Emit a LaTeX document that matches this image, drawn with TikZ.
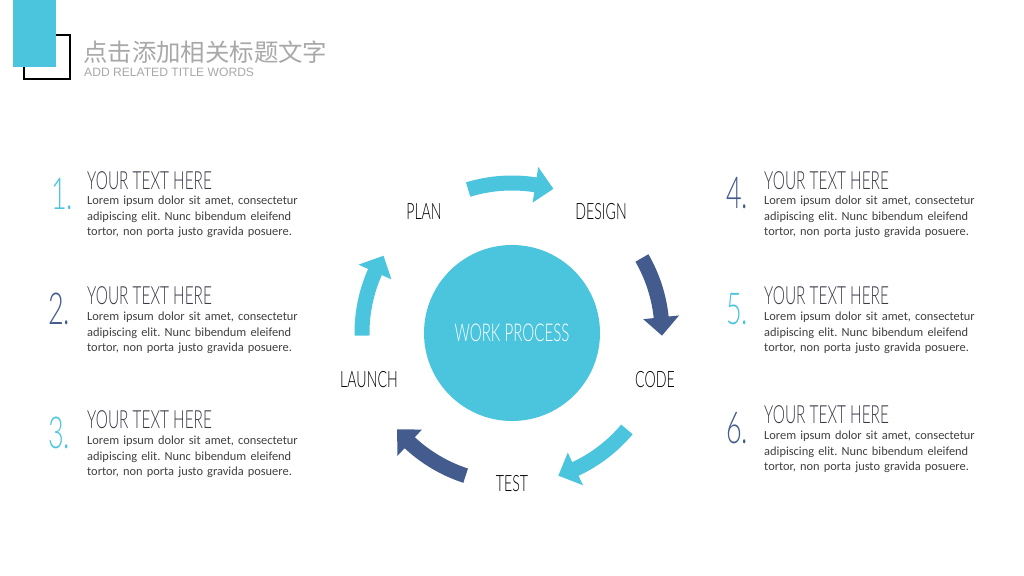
\documentclass[tikz,border=0pt]{standalone}
\usepackage{fontspec}
\setmainfont{Carlito}
\newfontfamily\cjk{Noto Sans CJK SC}
\newfontfamily\cond[FakeStretch=0.615]{Lato Light}
\newfontfamily\condl[FakeStretch=0.63]{Lato Light}
\newfontfamily\arialf{Liberation Sans}
\definecolor{cy}{HTML}{4BC5DE}
\definecolor{db}{HTML}{435B8D}
\definecolor{hd}{HTML}{3A3A48}
\definecolor{bd}{HTML}{404040}
\definecolor{tg}{HTML}{A8A8A8}
\tikzset{
  num/.style={anchor=base west,inner sep=0pt,font=\cond\fontsize{44}{44}\selectfont},
  head/.style={anchor=base west,inner sep=0pt,text=hd,font=\cond\fontsize{25}{25}\selectfont},
  body/.style={anchor=base west,inner sep=0pt,text=bd,text width=260pt,align=left,font=\frenchspacing\fontsize{12.4}{15.5}\selectfont},
  lab/.style={inner sep=0pt,text=black,font=\condl\fontsize{22.5}{22.5}\selectfont},
}
\begin{document}
\begin{tikzpicture}[x=1pt,y=1pt]
\useasboundingbox (0,0) rectangle (1024,575);
\fill[white] (0,0) rectangle (1024,575);
% header
\draw[black,line width=1.2pt] (24,496) rectangle (70,540);
\fill[cy] (13,508) rectangle (56,575);
\node[anchor=west,inner sep=0pt,text=tg,font=\cjk\fontsize{24.4}{24.4}\selectfont] (title) at (83,523) {点击添加相关标题文字};
\node[anchor=west,inner sep=0pt,text=tg,font=\arialf\fontsize{12.1}{12}\selectfont] (sub) at (84,503) {ADD RELATED TITLE WORDS};
% circle
\coordinate (C) at (512,242);
\fill[cy] (C) circle (88);
\node[inner sep=0pt,text=white,font=\cond\fontsize{24.5}{24.5}\selectfont] (wp) at (512,242) {WORK PROCESS};
% arrows
\foreach \s/\e/\c in {107/74/cy, 30/-1/db, -40/-72/cy, -108/-140/db, 181/149/cy}{
  \pgfmathsetmacro{\b}{\e+7}
  \fill[\c] ([shift={(C)}]\s:157.5) arc[start angle=\s,end angle=\b,radius=157.5]
     -- ([shift={(C)}]\b:168) -- ([shift={(C)}]\e:150) -- ([shift={(C)}]\b:132)
     -- ([shift={(C)}]\b:142.5) arc[start angle=\b,end angle=\s,radius=142.5] -- cycle;
}
% labels
\node[lab] (plan) at (424,363) {PLAN};
\node[lab] (design) at (601,363) {DESIGN};
\node[lab] (code) at (655,195) {CODE};
\node[lab] (test) at (512,91) {TEST};
\node[lab] (launch) at (369,195) {LAUNCH};
% left blocks
\node[num,text=cy] (n1) at (51,365) {1.};
\node[head] (h1) at (87,385) {YOUR TEXT HERE};
\node[body] (b1) at (87,370) {Lorem ipsum dolor sit amet, consectetur\\adipiscing elit. Nunc bibendum eleifend\\tortor, non porta justo gravida posuere.};
\node[num,text=db] (n2) at (48,250) {2.};
\node[head] (h2) at (87,270) {YOUR TEXT HERE};
\node[body] (b2) at (87,254) {Lorem ipsum dolor sit amet, consectetur\\adipiscing elit. Nunc bibendum eleifend\\tortor, non porta justo gravida posuere.};
\node[num,text=cy] (n3) at (48,126) {3.};
\node[head] (h3) at (87,146) {YOUR TEXT HERE};
\node[body] (b3) at (87,130) {Lorem ipsum dolor sit amet, consectetur\\adipiscing elit. Nunc bibendum eleifend\\tortor, non porta justo gravida posuere.};
% right blocks
\node[num,text=db] (n4) at (726,366) {4.};
\node[head] (h4) at (764,385) {YOUR TEXT HERE};
\node[body] (b4) at (764,370) {Lorem ipsum dolor sit amet, consectetur\\adipiscing elit. Nunc bibendum eleifend\\tortor, non porta justo gravida posuere.};
\node[num,text=cy] (n5) at (726,250) {5.};
\node[head] (h5) at (764,270) {YOUR TEXT HERE};
\node[body] (b5) at (764,254) {Lorem ipsum dolor sit amet, consectetur\\adipiscing elit. Nunc bibendum eleifend\\tortor, non porta justo gravida posuere.};
\node[num,text=db] (n6) at (726,131) {6.};
\node[head] (h6) at (764,151) {YOUR TEXT HERE};
\node[body] (b6) at (764,135) {Lorem ipsum dolor sit amet, consectetur\\adipiscing elit. Nunc bibendum eleifend\\tortor, non porta justo gravida posuere.};
\end{tikzpicture}
\end{document}
